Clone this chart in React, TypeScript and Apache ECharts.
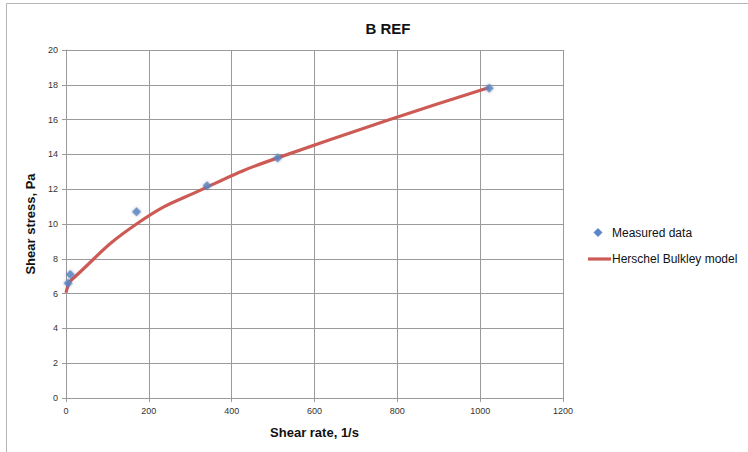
import React, { useEffect, useRef } from "react";
import * as echarts from "echarts";

// Measured rheometer readings (shear rate 1/s, shear stress Pa)
const measuredRate = [5.1, 10.2, 170.3, 340.6, 510.9, 1021.8];
const measuredStress = [6.6, 7.1, 10.7, 12.2, 13.8, 17.8];

// Herschel-Bulkley model curve values
const modelRate = [0, 5.1, 10.2, 170.3, 340.6, 510.9, 1021.8];
const modelStress = [6.05, 6.47, 6.72, 10.0, 12.12, 13.8, 17.85];

const xTicks = { min: 0, max: 1200, interval: 200 };
const yTicks = { min: 0, max: 20, interval: 2 };

const chartTitle = "B REF";
const xTitle = "Shear rate, 1/s";
const yTitle = "Shear stress, Pa";
const seriesNames = ["Measured data", "Herschel Bulkley model"];

const BLUE = "#5b87c6";
const RED = "#cd5b55";
const GRID = "#9a9a9a";
const labelFont = "'Liberation Sans Narrow', 'Liberation Sans', sans-serif";
const titleFont = "'Liberation Sans', 'DejaVu Sans', sans-serif";

export default function App() {
  const ref = useRef<HTMLDivElement>(null);

  useEffect(() => {
    if (!ref.current) return;
    const chart = echarts.init(ref.current, undefined, { renderer: "svg" });
    chart.setOption({
      animation: false,
      backgroundColor: "#ffffff",
      title: {
        text: chartTitle,
        left: 383,
        top: 16,
        textAlign: "center",
        textStyle: { fontFamily: titleFont, fontSize: 15, fontWeight: "bold", color: "#111" },
      },
      grid: { left: 66, right: 185, top: 50, bottom: 54 },
      xAxis: {
        type: "value",
        min: xTicks.min,
        max: xTicks.max,
        interval: xTicks.interval,
        name: xTitle,
        nameLocation: "middle",
        nameGap: 28,
        nameTextStyle: { fontFamily: titleFont, fontSize: 13, fontWeight: "bold", color: "#111" },
        axisLine: { show: true, lineStyle: { color: GRID, width: 1 } },
        axisTick: { show: true, length: 4, lineStyle: { color: GRID } },
        axisLabel: {
          fontFamily: labelFont,
          fontSize: 9,
          color: "#333",
          margin: 8,
          formatter: (v: number) => String(v),
        },
        splitLine: { show: true, lineStyle: { color: GRID, width: 1 } },
      },
      yAxis: {
        type: "value",
        min: yTicks.min,
        max: yTicks.max,
        interval: yTicks.interval,
        name: yTitle,
        nameLocation: "middle",
        nameGap: 27,
        nameRotate: 90,
        nameTextStyle: { fontFamily: titleFont, fontSize: 13, fontWeight: "bold", color: "#111" },
        axisLine: { show: true, lineStyle: { color: GRID, width: 1 } },
        axisTick: { show: true, length: 4, lineStyle: { color: GRID } },
        axisLabel: { fontFamily: labelFont, fontSize: 9, color: "#333", margin: 8 },
        splitLine: { show: true, lineStyle: { color: GRID, width: 1 } },
      },
      series: [
        {
          name: seriesNames[1],
          type: "line",
          data: modelRate.map((r, i) => [r, modelStress[i]]),
          smooth: 0.5,
          showSymbol: false,
          lineStyle: { color: RED, width: 3.2 },
          z: 2,
        },
        {
          name: seriesNames[0],
          type: "scatter",
          data: measuredRate.map((r, i) => [r, measuredStress[i]]),
          symbol: "diamond",
          symbolSize: 9,
          itemStyle: {
            color: BLUE,
            shadowColor: "rgba(60,80,120,0.55)",
            shadowBlur: 3,
          },
          z: 3,
        },
      ],
      graphic: [
        {
          type: "rect",
          shape: { x: 6.5, y: 3.5, width: 780, height: 480 },
          style: { fill: "none", stroke: "#b5b5b5", lineWidth: 1 },
          silent: true,
        },
        {
          type: "polygon",
          shape: { points: [[598, 228], [602.5, 232.5], [598, 237], [593.5, 232.5]] },
          style: { fill: BLUE },
        },
        {
          type: "text",
          x: 612,
          y: 233,
          style: {
            text: seriesNames[0],
            fontFamily: titleFont,
            fontSize: 12,
            fill: "#111",
            verticalAlign: "middle",
          },
        },
        {
          type: "line",
          shape: { x1: 588, y1: 259, x2: 611, y2: 259 },
          style: { stroke: RED, lineWidth: 3.2 },
        },
        {
          type: "text",
          x: 612,
          y: 259,
          style: {
            text: seriesNames[1],
            fontFamily: titleFont,
            fontSize: 12,
            fill: "#111",
            verticalAlign: "middle",
          },
        },
      ],
    });
    return () => chart.dispose();
  }, []);

  return (
    <div
      ref={ref}
      style={{ position: "absolute", left: 0, top: 0, width: 748, height: 452, background: "#fff" }}
    />
  );
}
